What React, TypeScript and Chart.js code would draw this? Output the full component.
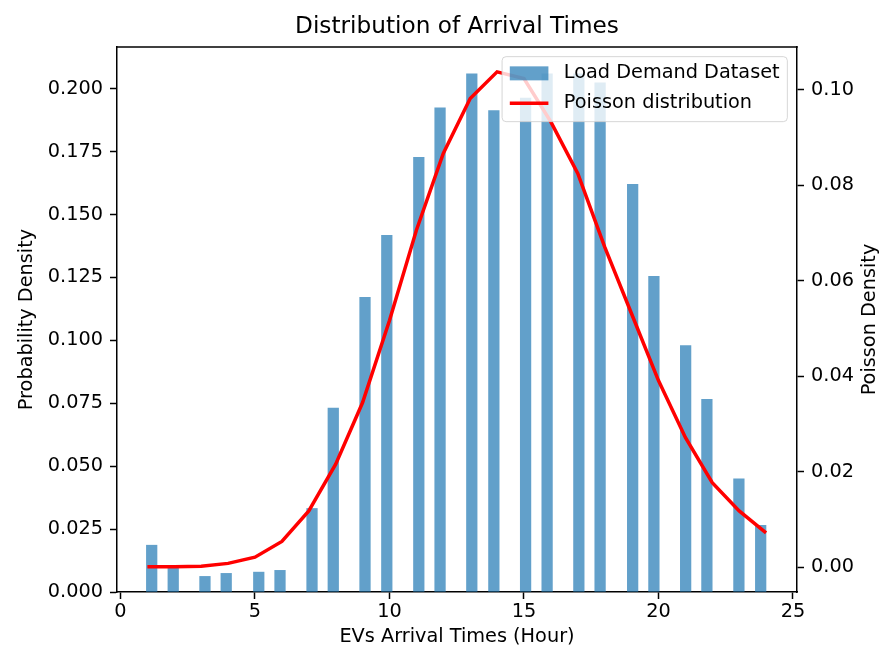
import React, { useEffect, useRef } from 'react';
import { Chart, registerables } from 'chart.js';

Chart.register(...registerables);

// ---- data ----
const title = 'Distribution of Arrival Times';
const xLabel = 'EVs Arrival Times (Hour)';
const yLabel = 'Probability Density';
const y2Label = 'Poisson Density';
const barLabel = 'Load Demand Dataset';
const lineLabel = 'Poisson distribution';

// histogram bar centres (hours) and heights (probability density)
const barX = [1.16, 1.96, 3.14, 3.93, 5.14, 5.93, 7.12, 7.91, 9.09, 9.9, 11.09, 11.88,
  13.06, 13.88, 15.06, 15.86, 17.04, 17.83, 19.04, 19.83, 21.01, 21.8, 22.99, 23.8];
const barDensity = [0.0186, 0.0099, 0.0062, 0.0074, 0.0079, 0.0086, 0.0332, 0.0731,
  0.1171, 0.1418, 0.1728, 0.1924, 0.2059, 0.1913, 0.1963, 0.2059, 0.2059, 0.2024,
  0.162, 0.1255, 0.0979, 0.0766, 0.045, 0.0265];

// Poisson curve
const hours = [1, 2, 3, 4, 5, 6, 7, 8, 9, 10, 11, 12, 13, 14, 15, 16, 17, 18, 19, 20, 21, 22, 23, 24];
const poissonDensity = [0.0001, 0.0001, 0.0002, 0.0008, 0.0021, 0.0054, 0.0118, 0.0216,
  0.0345, 0.0517, 0.0706, 0.0867, 0.0982, 0.1038, 0.1024, 0.0933, 0.0825, 0.0671,
  0.0531, 0.0391, 0.0272, 0.0177, 0.0118, 0.0072];

// ticks
const xTicks = [0, 5, 10, 15, 20, 25];
const yTicks = [0, 0.025, 0.05, 0.075, 0.1, 0.125, 0.15, 0.175, 0.2];
const y2Ticks = [0, 0.02, 0.04, 0.06, 0.08, 0.1];

const FONT = '"DejaVu Sans", sans-serif';
const FS = 19.3;
const BAR_COLOR = 'rgba(31,119,180,0.7)';

const overlayPlugin = {
  id: 'overlay',
  afterDraw(chart: any) {
    const { ctx, chartArea: a } = chart;
    ctx.save();
    // top spine
    ctx.strokeStyle = '#000';
    ctx.lineWidth = 1.5;
    ctx.beginPath();
    ctx.moveTo(a.left - 0.75, a.top);
    ctx.lineTo(a.right + 0.75, a.top);
    ctx.stroke();

    // right axis title (reads bottom-to-top like matplotlib)
    ctx.font = `${FS}px ${FONT}`;
    ctx.fillStyle = '#000';
    ctx.textAlign = 'center';
    ctx.textBaseline = 'middle';
    ctx.save();
    ctx.translate(a.right + 73, (a.top + a.bottom) / 2);
    ctx.rotate(-Math.PI / 2);
    ctx.fillText(y2Label, 0, 0);
    ctx.restore();

    // legend
    const bp = 0.4 * FS, hl = 2 * FS, htp = 0.8 * FS;
    const labels = [barLabel, lineLabel];
    const tw = Math.max(...labels.map((t) => ctx.measureText(t).width));
    const w = 2 * bp + hl + htp + tw;
    const h = 65;
    const right = a.right - 0.5 * FS;
    const top = a.top + 0.5 * FS;
    const left = right - w;
    ctx.beginPath();
    (ctx as any).roundRect(left, top, w, h, 4);
    ctx.fillStyle = 'rgba(255,255,255,0.8)';
    ctx.fill();
    ctx.strokeStyle = 'rgba(204,204,204,0.8)';
    ctx.lineWidth = 1;
    ctx.stroke();

    const row1 = top + 16.7;
    const row2 = row1 + 30;
    ctx.fillStyle = BAR_COLOR;
    ctx.fillRect(left + bp, row1 - 7, hl, 14);
    ctx.strokeStyle = 'red';
    ctx.lineWidth = 3.5;
    ctx.lineCap = 'butt';
    ctx.beginPath();
    ctx.moveTo(left + bp, row2);
    ctx.lineTo(left + bp + hl, row2);
    ctx.stroke();

    ctx.fillStyle = '#000';
    ctx.textAlign = 'left';
    ctx.fillText(barLabel, left + bp + hl + htp, row1);
    ctx.fillText(lineLabel, left + bp + hl + htp, row2);
    ctx.restore();
  },
};

const tickFont = { family: FONT, size: FS };
const axisGrid = {
  display: true,
  drawOnChartArea: false,
  drawTicks: true,
  tickLength: 7,
  tickWidth: 1.5,
  tickColor: '#000',
  offset: false,
};
const axisBorder = { display: true, color: '#000', width: 1.5 };

export default function App() {
  const ref = useRef<HTMLCanvasElement>(null);

  useEffect(() => {
    const chart = new Chart(ref.current as HTMLCanvasElement, {
      type: 'bar',
      data: {
        datasets: [
          {
            type: 'line',
            label: lineLabel,
            data: hours.map((h, i) => ({ x: h, y: poissonDensity[i] })),
            yAxisID: 'y1',
            borderColor: 'red',
            backgroundColor: 'red',
            borderWidth: 3.5,
            pointRadius: 0,
            tension: 0,
            fill: false,
            order: 0,
          } as any,
          {
            type: 'bar',
            label: barLabel,
            data: barX.map((x, i) => ({ x, y: barDensity[i] })),
            yAxisID: 'y',
            backgroundColor: BAR_COLOR,
            borderWidth: 0,
            barThickness: 10.6,
            order: 1,
          } as any,
        ],
      },
      options: {
        responsive: false,
        devicePixelRatio: 1,
        animation: false,
        layout: { padding: 0 },
        plugins: {
          legend: { display: false },
          tooltip: { enabled: false },
          title: {
            display: true,
            fullSize: false,
            text: title,
            color: '#000',
            font: { family: FONT, size: 23.2, weight: 'normal', lineHeight: 1.2 },
            padding: { top: 13.1, bottom: 6.06 },
          },
        },
        scales: {
          x: {
            type: 'linear',
            position: 'bottom',
            min: -0.13,
            max: 25.15,
            offset: false,
            grid: axisGrid,
            border: axisBorder,
            afterBuildTicks: (s: any) => {
              s.ticks = xTicks.map((v) => ({ value: v }));
            },
            afterFit: (s: any) => {
              s.height = 61;
            },
            ticks: {
              color: '#000',
              font: tickFont,
              padding: 1,
              maxRotation: 0,
              callback: (v: any) => String(v),
            },
            title: {
              display: true,
              text: xLabel,
              color: '#000',
              font: { family: FONT, size: FS, lineHeight: 1.2 },
              padding: { top: 0, bottom: 4.4 },
            },
          },
          y: {
            type: 'linear',
            position: 'left',
            min: 0,
            max: 0.2166,
            grid: axisGrid,
            border: axisBorder,
            afterBuildTicks: (s: any) => {
              s.ticks = yTicks.map((v) => ({ value: v }));
            },
            afterFit: (s: any) => {
              s.width = 117;
            },
            ticks: {
              color: '#000',
              font: tickFont,
              padding: 7,
              callback: (v: any) => Number(v).toFixed(3),
            },
            title: {
              display: true,
              text: yLabel,
              color: '#000',
              font: { family: FONT, size: FS, lineHeight: 1.2 },
              padding: { top: 15.4, bottom: 0 },
            },
          },
          y1: {
            type: 'linear',
            position: 'right',
            min: -0.0052,
            max: 0.109,
            grid: axisGrid,
            border: axisBorder,
            afterBuildTicks: (s: any) => {
              s.ticks = y2Ticks.map((v) => ({ value: v }));
            },
            afterFit: (s: any) => {
              s.width = 85;
            },
            ticks: {
              color: '#000',
              font: tickFont,
              padding: 7,
              callback: (v: any) => Number(v).toFixed(2),
            },
          },
        },
      } as any,
      plugins: [overlayPlugin],
    });
    return () => chart.destroy();
  }, []);

  return (
    <div style={{ position: 'fixed', left: 0, top: 0, width: 882, height: 653, background: '#fff' }}>
      <canvas ref={ref} width={882} height={653} style={{ width: 882, height: 653, display: 'block' }} />
    </div>
  );
}
